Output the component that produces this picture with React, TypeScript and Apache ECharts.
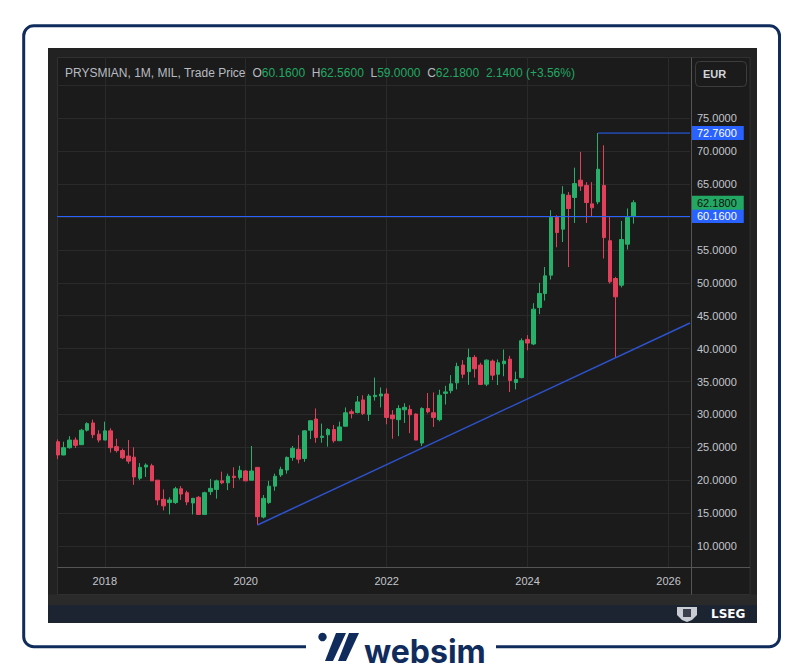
import React, { useEffect, useRef } from 'react';
import * as echarts from 'echarts';

// First candle = May 2017, index 0; one candle per month
const FIRST_YEAR = 2017;
const FIRST_MONTH = 5;

const OPEN = [
  25.85, 23.83, 24.94, 26.1, 25.4, 27.6, 28.7, 27.0, 26.1, 27.5,
  25.1, 24.5, 23.67, 23.5, 20.3, 22.0, 22.2, 20.0, 17.1, 16.6,
  16.6, 18.7, 18.1, 16.54, 17.4, 14.8, 18.26, 18.6, 19.9, 19.6,
  20.6, 20.4, 21.4, 20.0, 21.95, 14.4, 16.6, 19.1, 20.8, 21.55,
  23.47, 24.7, 23.3, 27.6, 29.3, 26.5, 26.9, 27.7, 26.0, 28.2,
  30.4, 30.3, 32.2, 30.0, 32.7, 32.8, 33.1, 29.9, 29.2, 30.7,
  30.76, 30.05, 25.65, 30.9, 30.25, 29.2, 33.2, 33.6, 34.8, 37.5,
  36.5, 38.66, 37.5, 34.6, 38.1, 36.1, 37.7, 38.4, 34.85, 35.6,
  41.4, 40.7, 46.25, 48.38, 51.16, 59.92, 58.15, 63.3, 62.96, 65.6,
  64.8, 62.0, 62.3, 64.8, 56.4, 50.65, 49.64, 55.87, 60.16,
];
const CLOSE = [
  23.83, 24.94, 26.1, 25.3, 27.6, 28.6, 26.9, 26.1, 27.5, 24.94,
  24.5, 23.4, 22.9, 20.5, 21.95, 22.3, 19.9, 17.0, 16.1, 17.0,
  18.7, 17.9, 16.7, 17.25, 14.8, 18.1, 18.76, 19.9, 19.6, 20.6,
  20.4, 21.5, 19.9, 21.4, 14.46, 17.25, 19.1, 20.6, 21.65, 23.47,
  24.85, 23.2, 27.5, 29.04, 26.5, 26.7, 27.7, 26.0, 28.1, 30.25,
  30.15, 31.9, 30.15, 32.8, 32.9, 33.1, 29.55, 29.34, 30.9, 31.08,
  29.95, 26.1, 30.9, 30.4, 29.55, 32.92, 33.42, 34.65, 37.3, 36.1,
  38.66, 36.94, 34.56, 38.25, 35.97, 37.85, 38.1, 35.15, 35.3, 41.2,
  40.85, 46.0, 48.38, 51.06, 59.92, 57.64, 63.46, 61.3, 65.08, 64.7,
  62.2, 61.4, 67.26, 56.88, 50.15, 47.87, 56.58, 59.92, 62.18,
];
const LOW = [
  23.2, 23.8, 24.8, 24.9, 25.4, 27.4, 26.4, 25.75, 26.1, 24.2,
  24.2, 23.2, 22.5, 19.3, 20.0, 20.5, 19.9, 16.2, 15.4, 14.8,
  16.4, 17.0, 16.2, 14.8, 14.8, 14.8, 17.75, 17.2, 19.4, 18.5,
  18.8, 20.1, 19.9, 20.0, 13.2, 14.2, 16.4, 18.4, 20.5, 21.0,
  22.96, 22.56, 22.8, 26.25, 25.7, 25.7, 25.1, 25.7, 26.0, 28.2,
  29.4, 30.15, 29.9, 29.0, 32.1, 31.06, 28.5, 26.3, 26.7, 28.7,
  27.15, 26.1, 25.2, 30.15, 28.1, 28.95, 31.5, 33.2, 33.8, 35.5,
  34.5, 35.6, 34.46, 34.3, 35.2, 34.46, 35.8, 33.4, 33.8, 35.47,
  39.75, 40.53, 45.24, 47.3, 50.5, 55.4, 56.2, 52.4, 59.1, 63.97,
  59.1, 60.0, 61.95, 53.7, 49.9, 38.6, 49.3, 55.06, 59.0,
];
const HIGH = [
  26.2, 25.85, 26.7, 26.5, 27.8, 28.8, 29.2, 27.6, 28.9, 27.9,
  26.3, 24.8, 26.1, 25.0, 22.6, 22.56, 22.5, 20.0, 18.6, 17.4,
  19.0, 19.1, 18.4, 17.3, 17.6, 18.26, 20.2, 20.1, 21.3, 21.0,
  21.95, 22.2, 21.55, 25.2, 21.95, 17.75, 19.9, 21.0, 22.05, 23.6,
  25.2, 26.86, 27.6, 29.1, 30.9, 28.6, 27.9, 28.4, 28.9, 31.06,
  30.76, 32.8, 32.9, 33.1, 35.6, 34.1, 33.95, 30.66, 31.4, 31.7,
  31.4, 30.15, 31.08, 33.25, 33.35, 33.75, 34.35, 35.97, 37.85, 38.25,
  40.0, 39.0, 37.85, 38.35, 38.35, 38.35, 39.87, 38.9, 36.5, 41.55,
  42.05, 46.9, 50.0, 52.4, 61.03, 60.27, 64.68, 63.8, 67.5, 69.9,
  65.3, 65.3, 72.76, 70.9, 60.1, 50.9, 59.4, 61.3, 62.56,
];

const Y_TICKS = [10, 15, 20, 25, 30, 35, 40, 45, 50, 55, 60, 65, 70, 75];
const Y_GRID = [10, 15, 20, 25, 30, 35, 40, 45, 50, 55, 60, 65, 70, 75, 80];
const YEAR_LABELS = [2018, 2020, 2022, 2024, 2026];

const X_MIN = -0.14;
const X_MAX = 107.66;
const Y_MIN = 6.81;
const Y_MAX = 84.32;

const PEAK_INDEX = 92;
const PEAK_HIGH = 72.76;
const LAST_OPEN = 60.16;
const LAST_CLOSE = 62.18;
const PEAK_LINE = [
  [PEAK_INDEX, PEAK_HIGH],
  [X_MAX, PEAK_HIGH],
];
const TREND = [
  [34, 13.2],
  [107.66, 43.9],
];

const UP = '#26b06a';
const DOWN = '#e2405a';
const BLUE = '#2962ff';
const AXIS_TEXT = '#c3c6cc';
const FONT = 'Liberation Sans, Arial, sans-serif';

const yearToIndex = (y: number) => (y - FIRST_YEAR) * 12 + (1 - FIRST_MONTH);
const indexToYear = (i: number) => FIRST_YEAR + Math.floor((i + FIRST_MONTH - 1) / 12);

const App = () => {
  const ref = useRef<HTMLDivElement>(null);
  useEffect(() => {
    const chart = echarts.init(ref.current!, null, { renderer: 'svg' });
    const candles = OPEN.map((o, i) => [i, o, CLOSE[i], LOW[i], HIGH[i]]);
    const tag = (bg: string, fg: string, value: number) => ({
      show: true,
      position: 'end',
      distance: 2,
      backgroundColor: bg,
      color: fg,
      fontSize: 11,
      fontFamily: FONT,
      lineHeight: 12,
      padding: [1, 7, 1, 5],
      formatter: () => value.toFixed(4),
    });
    const blueLine = { color: BLUE, width: 1, type: 'solid', opacity: 1 };
    const hiddenLine = { color: 'rgba(0,0,0,0)', width: 1, type: 'solid', opacity: 1 };
    const option: any = {
      animation: false,
      backgroundColor: '#ffffff',
      textStyle: { fontFamily: FONT },
      grid: {
        left: 57,
        right: 116,
        top: 57,
        bottom: 105,
        outerBoundsMode: 'none',
        containLabel: false,
      },
      xAxis: {
        type: 'value',
        min: X_MIN,
        max: X_MAX,
        axisLine: { show: false },
        axisTick: { show: false, customValues: YEAR_LABELS.map(yearToIndex) },
        axisLabel: {
          customValues: YEAR_LABELS.map(yearToIndex),
          formatter: (v: number) => String(indexToYear(v)),
          color: AXIS_TEXT,
          fontSize: 11,
          margin: 8,
        },
        splitLine: { show: true, lineStyle: { color: '#2a2a2a', width: 1 } },
      },
      yAxis: {
        type: 'value',
        position: 'right',
        min: Y_MIN,
        max: Y_MAX,
        scale: true,
        axisLine: { show: false },
        axisTick: { show: false, customValues: Y_GRID },
        axisLabel: {
          customValues: Y_TICKS,
          formatter: (v: number) => v.toFixed(4),
          color: AXIS_TEXT,
          fontSize: 11,
          margin: 7,
          align: 'left',
        },
        splitLine: { show: true, lineStyle: { color: '#2a2a2a', width: 1 } },
      },
      series: [
        {
          type: 'candlestick',
          data: candles,
          barWidth: 4,
          itemStyle: {
            color: UP,
            color0: DOWN,
            borderColor: UP,
            borderColor0: DOWN,
            borderWidth: 1,
          },
          markLine: {
            silent: true,
            symbol: ['none', 'none'],
            animation: false,
            lineStyle: blueLine,
            data: [
              {
                yAxis: LAST_OPEN,
                lineStyle: blueLine,
                label: tag(BLUE, '#ffffff', LAST_OPEN),
              },
              {
                yAxis: PEAK_HIGH,
                lineStyle: hiddenLine,
                label: tag(BLUE, '#ffffff', PEAK_HIGH),
              },
              {
                yAxis: LAST_CLOSE,
                lineStyle: hiddenLine,
                label: tag('#22a862', '#111111', LAST_CLOSE),
              },
            ],
          },
        },
        {
          type: 'line',
          data: PEAK_LINE,
          symbol: 'none',
          lineStyle: { color: BLUE, width: 1 },
          silent: true,
          z: 3,
        },
        {
          type: 'line',
          data: TREND,
          symbol: 'none',
          lineStyle: { color: '#2d52cc', width: 1.5 },
          silent: true,
          z: 3,
        },
      ],
      graphic: {
        elements: [
          {
            type: 'rect',
            z: -20,
            shape: { x: 23.7, y: 25.8, width: 755.8, height: 620.9, r: 10 },
            style: { fill: '#ffffff', stroke: '#0f2c5c', lineWidth: 3 },
          },
          {
            type: 'rect',
            z: -19,
            shape: { x: 48, y: 48, width: 709, height: 575 },
            style: { fill: '#222222' },
          },
          {
            type: 'rect',
            z: -18,
            shape: { x: 48, y: 594.5, width: 709, height: 11 },
            style: { fill: '#2a2a2a' },
          },
          {
            type: 'rect',
            z: -18,
            shape: { x: 57.5, y: 57.5, width: 692.5, height: 537 },
            style: { fill: '#1b1b1b', stroke: '#303030', lineWidth: 1 },
          },
          {
            type: 'rect',
            z: -18,
            shape: { x: 48, y: 605, width: 709, height: 18 },
            style: { fill: '#1c2331' },
          },
          {
            type: 'line',
            z: 50,
            shape: { x1: 691.5, y1: 57.5, x2: 691.5, y2: 594.5 },
            style: { stroke: '#555555', lineWidth: 1 },
          },
          {
            type: 'line',
            z: 50,
            shape: { x1: 57.5, y1: 567.5, x2: 750, y2: 567.5 },
            style: { stroke: '#555555', lineWidth: 1 },
          },
          {
            type: 'rect',
            z: 50,
            shape: { x: 695.5, y: 61.5, width: 51, height: 25, r: 4 },
            style: { fill: '#1b1b1b', stroke: '#3d3d3d', lineWidth: 1 },
          },
          {
            type: 'text',
            z: 51,
            x: 703,
            y: 74,
            style: {
              text: 'EUR',
              fill: '#d1d4dc',
              fontSize: 11,
              fontWeight: 'bold',
              fontFamily: FONT,
              verticalAlign: 'middle',
            },
          },
          {
            type: 'text',
            z: 51,
            x: 65,
            y: 73,
            style: {
              text:
                '{g|PRYSMIAN, 1M, MIL, Trade Price}  {g|O}{v|60.1600}  {g|H}{v|62.5600}  {g|L}{v|59.0000}  {g|C}{v|62.1800}  {v|2.1400 (+3.56%)}',
              fontFamily: FONT,
              fontSize: 12,
              verticalAlign: 'middle',
              rich: {
                g: { fill: '#b8bbc2', fontSize: 12, fontFamily: FONT },
                v: { fill: '#22a862', fontSize: 12, fontFamily: FONT },
              },
            },
          },
          // LSEG mark
          {
            type: 'polygon',
            z: 51,
            shape: {
              points: [
                [677, 607],
                [697, 607],
                [697, 615],
                [692, 620],
                [687, 622],
                [682, 620],
                [677, 615],
              ],
            },
            style: { fill: '#c9ccd2' },
          },
          {
            type: 'rect',
            z: 52,
            shape: { x: 683, y: 609, width: 8, height: 8 },
            style: { fill: '#3a3f4b' },
          },
          {
            type: 'text',
            z: 51,
            x: 711,
            y: 614,
            style: {
              text: 'LSEG',
              fill: '#ffffff',
              fontSize: 12,
              fontWeight: 'bold',
              fontFamily: 'DejaVu Sans, sans-serif',
              verticalAlign: 'middle',
            },
          },
          // websim logo
          {
            type: 'rect',
            z: -5,
            shape: { x: 306, y: 640, width: 190, height: 14 },
            style: { fill: '#ffffff' },
          },
          {
            type: 'circle',
            z: 5,
            shape: { cx: 322.5, cy: 637, r: 4.2 },
            style: { fill: '#0f2c5c' },
          },
          {
            type: 'polygon',
            z: 5,
            shape: { points: [[336, 633], [346, 633], [333, 661], [325, 661]] },
            style: { fill: '#0f2c5c' },
          },
          {
            type: 'polygon',
            z: 5,
            shape: { points: [[349, 633], [359, 633], [346, 661], [338, 661]] },
            style: { fill: '#0f2c5c' },
          },
          {
            type: 'text',
            z: 5,
            x: 364,
            y: 651,
            style: {
              text: 'websim',
              fill: '#0f2c5c',
              fontSize: 32,
              fontWeight: 700,
              fontFamily: 'Inter, Noto Sans, sans-serif',
              verticalAlign: 'middle',
            },
          },
        ],
      },
    };
    chart.setOption(option);
    return () => chart.dispose();
  }, []);
  return (
    <div
      ref={ref}
      style={{ position: 'fixed', left: 0, top: 0, width: 806, height: 672, background: '#fff' }}
    />
  );
};

export default App;
